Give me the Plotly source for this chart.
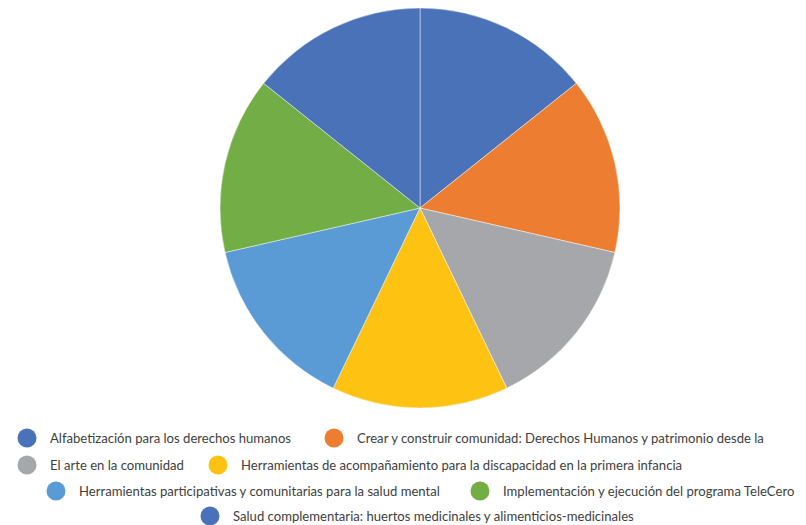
import plotly.graph_objects as go

labels = [
    "Alfabetización para los derechos humanos",
    "Crear y construir comunidad: Derechos Humanos y patrimonio desde la",
    "El arte en la comunidad",
    "Herramientas de acompañamiento para la discapacidad en la primera infancia",
    "Herramientas participativas y comunitarias para la salud mental",
    "Implementación y ejecución del programa TeleCero",
    "Salud complementaria: huertos medicinales y alimenticios-medicinales",
]
values = [1, 1, 1, 1, 1, 1, 1]
colors = ["#4A72B8", "#ED7D31", "#A5A7AA", "#FDC212", "#5B9BD5", "#72AD45", "#4A72B8"]

# the page body adds an 8px margin; the figure is sized to fill the rest
OFF = 8
W, H = 806 - OFF, 525 - OFF
cx, cy, r = 420 - OFF, 208 - OFF, 200

fig = go.Figure()
fig.add_trace(go.Pie(
    labels=labels, values=values, sort=False, direction="clockwise", rotation=0,
    marker=dict(colors=colors, line=dict(color="rgba(255,255,255,0.45)", width=1)),
    textinfo="none", hoverinfo="label+percent", showlegend=False,
    domain=dict(x=[(cx - r) / W, (cx + r) / W],
                y=[max(0, (H - cy - r) / H), min(1, (H - cy + r) / H)]),
))

# manual centered legend layout (row y, marker-center x) in window pixels
legend_pos = [(438, 27), (438, 334), (465, 27), (465, 218), (491, 56), (491, 480), (516, 210)]
annotations = []
shapes = []
for lab, col, (yy, xx) in zip(labels, colors, legend_pos):
    yy -= OFF
    xx -= OFF
    shapes.append(dict(type="circle", xref="paper", yref="paper",
                       x0=(xx - 9.5) / W, x1=(xx + 9.5) / W,
                       y0=(H - yy - 9.5) / H, y1=(H - yy + 9.5) / H,
                       fillcolor=col, line=dict(width=0)))
    annotations.append(dict(x=(xx + 21) / W, y=(H - yy) / H, xref="paper", yref="paper",
                            text=lab, showarrow=False, xanchor="left", yanchor="middle",
                            font=dict(family="Lato", size=13.1, color="#404040")))

fig.update_layout(
    width=W, height=H, margin=dict(l=0, r=0, t=0, b=0),
    paper_bgcolor="white", plot_bgcolor="white",
    annotations=annotations, shapes=shapes,
)
fig.write_html("out.html")
